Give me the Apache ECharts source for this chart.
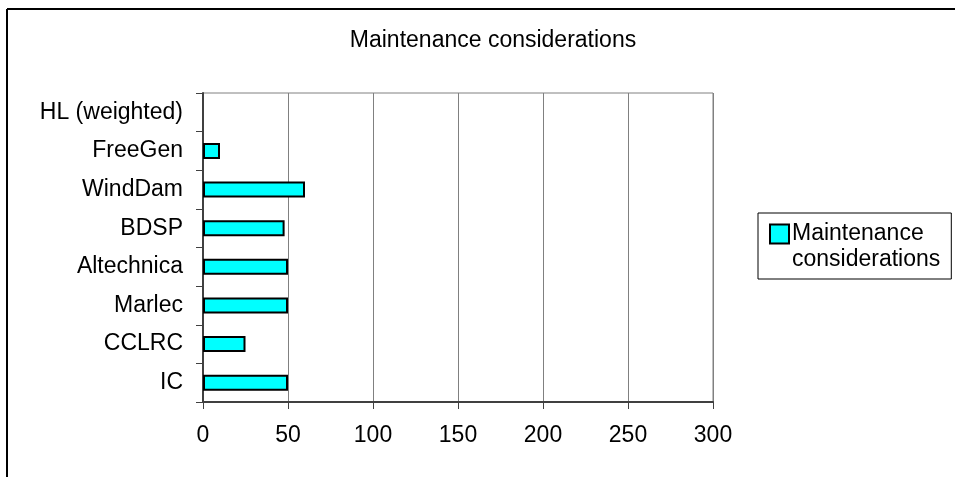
<!DOCTYPE html>
<html>
<head>
<meta charset="utf-8">
<script src="https://cdn.jsdelivr.net/npm/echarts@6/dist/echarts.min.js"></script>
<style>
html,body{margin:0;padding:0;background:#fff;}
#c{width:955px;height:477px;}
</style>
</head>
<body>
<div id="c"></div>
<script>
const categories = ['IC', 'CCLRC', 'Marlec', 'Altechnica', 'BDSP', 'WindDam', 'FreeGen', 'HL (weighted)'];
const values = [50, 25, 50, 50, 48, 60, 10, 0];
const xTicks = [0, 50, 100, 150, 200, 250, 300];
const seriesName = 'Maintenance considerations';
const titleText = 'Maintenance considerations';
const legendLines = ['Maintenance', 'considerations'];

const font = 'Arial, "Liberation Sans", sans-serif';
const FS = 23;
const chart = echarts.init(document.getElementById('c'), null, {renderer: 'canvas'});
chart.setOption({
  animation: false,
  backgroundColor: '#fff',
  title: {
    text: titleText,
    left: 488, top: 24, textAlign: 'center',
    textStyle: {fontFamily: font, fontSize: FS, fontWeight: 'normal', color: '#000'}
  },
  legend: {
    data: [seriesName],
    left: 758, top: 213,
    orient: 'vertical',
    padding: [8, 11, 6, 8],
    borderColor: '#000', borderWidth: 1,
    itemWidth: 0, itemHeight: 0,
    icon: 'rect',
    itemStyle: {opacity: 0, borderWidth: 0},
    formatter: function () {
      return '{ic|}{g|}{t|' + legendLines[0] + '}\n{sp|}{t|' + legendLines[1] + '}';
    },
    textStyle: {
      fontFamily: font, fontSize: FS, color: '#000', lineHeight: 26,
      rich: {
        ic: {width: 17, height: 17, backgroundColor: '#00FFFF', borderColor: '#000', borderWidth: 2},
        g: {width: 4},
        sp: {width: 21},
        t: {fontFamily: font, fontSize: FS, color: '#000', lineHeight: 26}
      }
    }
  },
  grid: {
    left: 203, top: 93, right: 242, bottom: 75,
    show: true, borderColor: '#808080', borderWidth: 1
  },
  xAxis: {
    type: 'value',
    min: xTicks[0], max: xTicks[xTicks.length - 1], interval: 50,
    axisLine: {show: true, lineStyle: {color: '#404040', width: 2}},
    axisTick: {show: true, length: 7, lineStyle: {color: '#404040', width: 1}},
    splitLine: {show: true, lineStyle: {color: '#808080', width: 1}},
    axisLabel: {fontFamily: font, fontSize: FS, color: '#000', margin: 22}
  },
  yAxis: {
    type: 'category',
    data: categories,
    axisLine: {show: true, lineStyle: {color: '#404040', width: 2}},
    axisTick: {show: true, length: 7, lineStyle: {color: '#404040', width: 1}},
    axisLabel: {fontFamily: font, fontSize: FS, color: '#000', margin: 20}
  },
  series: [{
    name: seriesName,
    type: 'bar',
    data: values.map(v => v === 0 ? {value: v, itemStyle: {borderWidth: 0}} : v),
    barWidth: 16,
    itemStyle: {color: '#00FFFF', borderColor: '#000', borderWidth: 2}
  }],
  graphic: [
    {type: 'line', shape: {x1: 7, y1: 9, x2: 955, y2: 9}, style: {stroke: '#000', lineWidth: 2}, silent: true},
    {type: 'line', shape: {x1: 7, y1: 9, x2: 7, y2: 477}, style: {stroke: '#000', lineWidth: 2}, silent: true}
  ]
});
</script>
</body>
</html>
